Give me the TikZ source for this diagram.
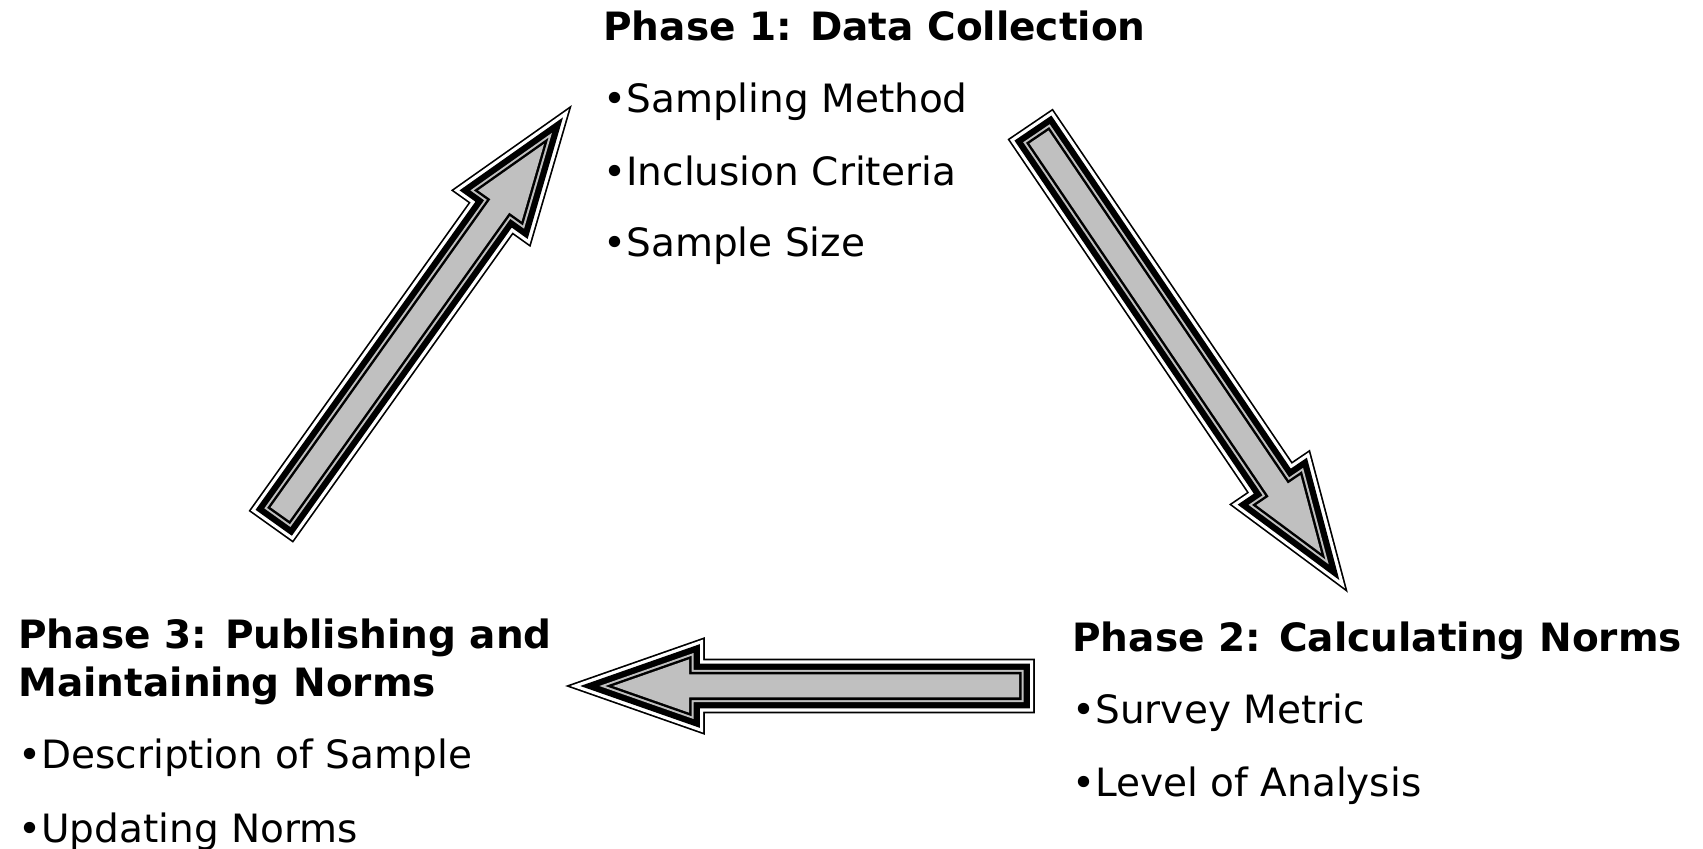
\documentclass[tikz,border=0pt]{standalone}
\usepackage{fontspec}
\setmainfont{DejaVu Sans}
\usetikzlibrary{calc}
\definecolor{ArrowGray}{HTML}{C0C0C0}

% block arrow from tail (#1) to tip (#2)
\newcommand\blockarrow[2]{%
  \coordinate (hb) at ($(#2)!38pt!(#1)$);
  \path[blockarrow] ($(#1)!5.75pt!90:(#2)$) -- ($(hb)!5.75pt!90:(#2)$)
    -- ($(hb)!13.3pt!90:(#2)$) -- (#2) -- ($(hb)!13.3pt!-90:(#2)$)
    -- ($(hb)!5.75pt!-90:(#2)$) -- ($(#1)!5.75pt!-90:(#2)$) -- cycle;}

\begin{document}
\begin{tikzpicture}[
  x=0.5pt, y=-0.5pt,
  phasetitle/.style={anchor=base west, inner sep=0pt,
    font=\fontsize{19.5}{24}\selectfont\bfseries},
  itemtext/.style={anchor=base west, inner sep=0pt,
    font=\fontsize{19.5}{24}\selectfont},
  blockarrow/.style={fill=ArrowGray, line join=miter,
    preaction={draw=black, line width=15.8pt},
    preaction={draw=white, line width=14.1pt},
    preaction={draw=black, line width=10.8pt},
    preaction={draw=ArrowGray, line width=4.5pt},
    preaction={draw=black, line width=2.5pt}}
]
\useasboundingbox (0,0) rectangle (1703,849);

% phase texts
\node[phasetitle] (p1) at (603,41) {Phase 1: Data Collection};
\node[itemtext] (p1a) at (603,113) {•Sampling Method};
\node[itemtext] (p1b) at (603,186) {•Inclusion Criteria};
\node[itemtext] (p1c) at (603,257) {•Sample Size};

\node[phasetitle] (p2) at (1072,652) {Phase 2: Calculating Norms};
\node[itemtext] (p2a) at (1072,724) {•Survey Metric};
\node[itemtext] (p2b) at (1072,796) {•Level of Analysis};

\node[phasetitle] (p3) at (18,648) {Phase 3: Publishing and};
\node[phasetitle] (p3b) at (18,697) {Maintaining Norms};
\node[itemtext] (p3c) at (18,769) {•Description of Sample};
\node[itemtext] (p3d) at (18,842) {•Updating Norms};

% arrow ends
\coordinate (dn0) at (1039,137);
\coordinate (dn1) at (1321,553);
\coordinate (lf0) at (1019,686);
\coordinate (lf1) at (613,686);
\coordinate (up0) at (280,514);
\coordinate (up1) at (544,144);

\blockarrow{dn0}{dn1}
\blockarrow{lf0}{lf1}
\blockarrow{up0}{up1}
\end{tikzpicture}
\end{document}
